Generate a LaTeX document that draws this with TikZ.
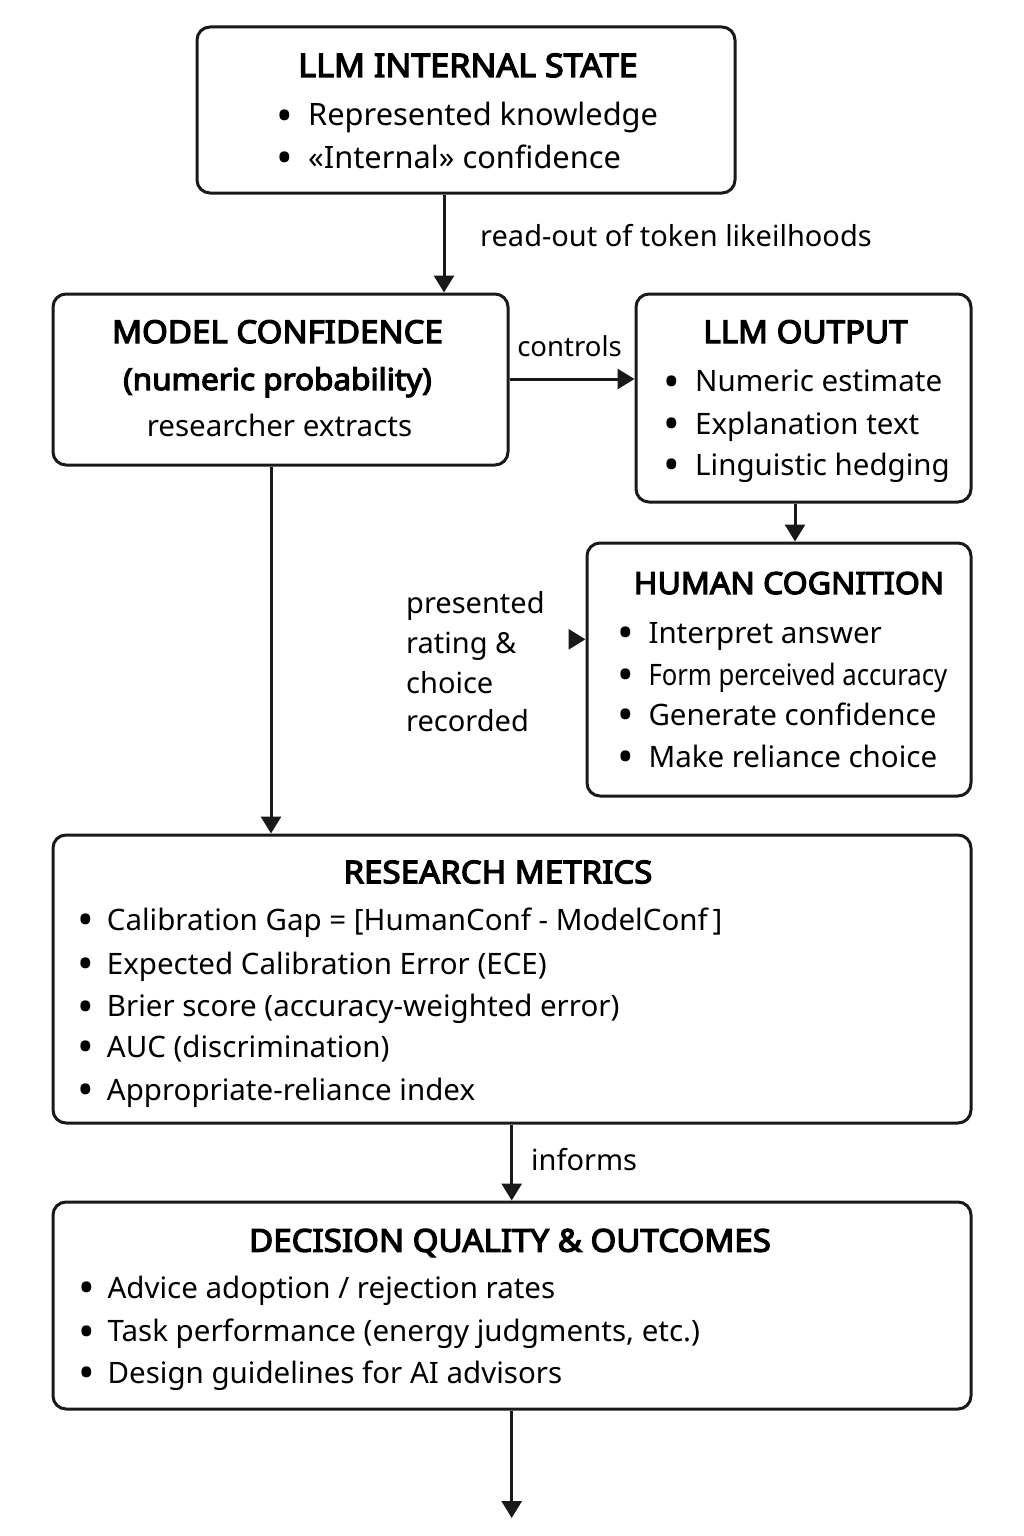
\documentclass[tikz,border=0pt]{standalone}
\usepackage{fontspec}
\usepackage{graphicx}
\setmainfont{Noto Sans}[BoldFont={Noto Sans},BoldFeatures={FakeBold=4,FakeStretch=1.05}]
\usetikzlibrary{arrows.meta}
\newcommand{\bul}{\raisebox{-0.19em}{\scalebox{1.5}{•}}}
\begin{document}
\begin{tikzpicture}[x=1pt,y=-1pt,
  box/.style={draw=black!90,line width=3pt,rounded corners=13pt,inner sep=0pt},
  arr/.style={draw=black!90,line width=3pt,-{Triangle[length=17pt,width=20pt]}},
  ttl/.style={font=\fontsize{31.5}{36}\selectfont\bfseries,anchor=base,inner sep=0pt},
  sub/.style={font=\fontsize{30}{36}\selectfont\bfseries,anchor=base,inner sep=0pt},
  ctr/.style={font=\fontsize{29.5}{36}\selectfont,anchor=base,inner sep=0pt},
  txt/.style={font=\fontsize{29.5}{36}\selectfont,anchor=base west,inner sep=0pt},
  lbl/.style={font=\fontsize{29}{36}\selectfont,anchor=base west,inner sep=0pt},
  itm/.style={txt,execute at begin node={\llap{\makebox[46pt][c]{\bul}}}},
  itmb/.style={txt,execute at begin node={\llap{\makebox[42pt][c]{\bul}}}}
]
\useasboundingbox (0,0) rectangle (1024,1536);
\fill[white] (0,0) rectangle (1024,1536);

% boxes
\node[box,minimum width=538pt,minimum height=166pt] (ist) at (466,110) {};
\node[box,minimum width=455pt,minimum height=171pt] (mc) at (280.5,379.5) {};
\node[box,minimum width=335pt,minimum height=208pt] (out) at (803.5,398) {};
\node[box,minimum width=384pt,minimum height=253pt] (hc) at (779,669.5) {};
\node[box,minimum width=918pt,minimum height=288pt] (rm) at (512,979) {};
\node[box,minimum width=918pt,minimum height=207pt] (dq) at (512,1305.5) {};

% LLM internal state
\node[ttl] (ist-t) at (468,77) {\fontsize{32.5}{36}\selectfont LLM INTERNAL STATE};
\node[itm] (ist-1) at (308,126) {\fontsize{30.8}{36}\selectfont Represented knowledge};
\node[itm] (ist-2) at (308,168) {\fontsize{30.8}{36}\selectfont «Internal» confidence};

% model confidence
\node[ttl] (mc-t) at (277.5,343) {MODEL CONFIDENCE};
\node[sub] (mc-s) at (277.5,390) {(numeric probability)};
\node[ctr] (mc-r) at (279.5,436.7) {researcher extracts};

% LLM output
\node[ttl] (out-t) at (805.5,343) {LLM OUTPUT};
\node[itm] (out-1) at (695,391.7) {Numeric estimate};
\node[itm] (out-2) at (695,434) {Explanation text};
\node[itm] (out-3) at (695,475) {Linguistic hedging};

% human cognition
\node[ttl] (hc-t) at (789,594) {\fontsize{30.5}{36}\selectfont HUMAN COGNITION};
\node[itm] (hc-1) at (648.3,643.3) {Interpret answer};
\node[itm] (hc-2) at (648.3,685) {\scalebox{0.87}[1]{Form perceived accuracy}};
\node[itm] (hc-3) at (648.3,725) {Generate confidence};
\node[itm] (hc-4) at (648.3,767.3) {Make reliance choice};

% research metrics
\node[ttl] (rm-t) at (498,883.3) {RESEARCH METRICS};
\node[itmb] (rm-1) at (106.7,930) {Calibration Gap = [HumanConf - ModelConf\,]};
\node[itmb] (rm-2) at (106.7,974) {Expected Calibration Error (ECE)};
\node[itmb] (rm-3) at (106.7,1016.7) {Brier score (accuracy-weighted error)};
\node[itmb] (rm-4) at (106.7,1057.3) {AUC (discrimination)};
\node[itmb] (rm-5) at (106.7,1100) {Appropriate-reliance index};

% decision quality
\node[ttl] (dq-t) at (510,1251.7) {DECISION QUALITY \& OUTCOMES};
\node[itmb] (dq-1) at (107.4,1298) {Advice adoption / rejection rates};
\node[itmb] (dq-2) at (107.4,1341.7) {Task performance (energy judgments, etc.)};
\node[itmb] (dq-3) at (107.4,1383.3) {Design guidelines for AI advisors};

% connector guides
\coordinate (g1) at (444,0);
\coordinate (g2) at (0,379);
\coordinate (g3) at (795,0);
\coordinate (g4) at (271,0);
\coordinate (g5) at (571,639.3);
\coordinate (g6) at (511.7,0);
\coordinate (g7) at (511.7,1518);

% connectors
\draw[arr] (ist.south -| g1) -- (mc.north -| g1);
\draw[arr] (mc.east |- g2) -- (out.west |- g2);
\draw[arr] (out.south -| g3) -- (hc.north -| g3);
\draw[arr] (mc.south -| g4) -- (rm.north -| g4);
\draw[arr] (g5) -- (hc.west |- g5);
\draw[arr] (rm.south -| g6) -- (dq.north -| g6);
\draw[arr] (dq.south -| g6) -- (g7);

% connector labels
\node[lbl] (l1) at (480,246.7) {read-out of token likeilhoods};
\node[font=\fontsize{27.5}{32}\selectfont,anchor=base,inner sep=0pt] (l2) at (569.5,356.7) {controls};
\node[lbl] (l3a) at (406,613.3) {presented};
\node[lbl] (l3b) at (406,653) {rating \&};
\node[lbl] (l3c) at (406,693) {choice};
\node[lbl] (l3d) at (406,731.7) {recorded};
\node[lbl] (l4) at (531,1170.7) {informs};
\end{tikzpicture}
\end{document}
